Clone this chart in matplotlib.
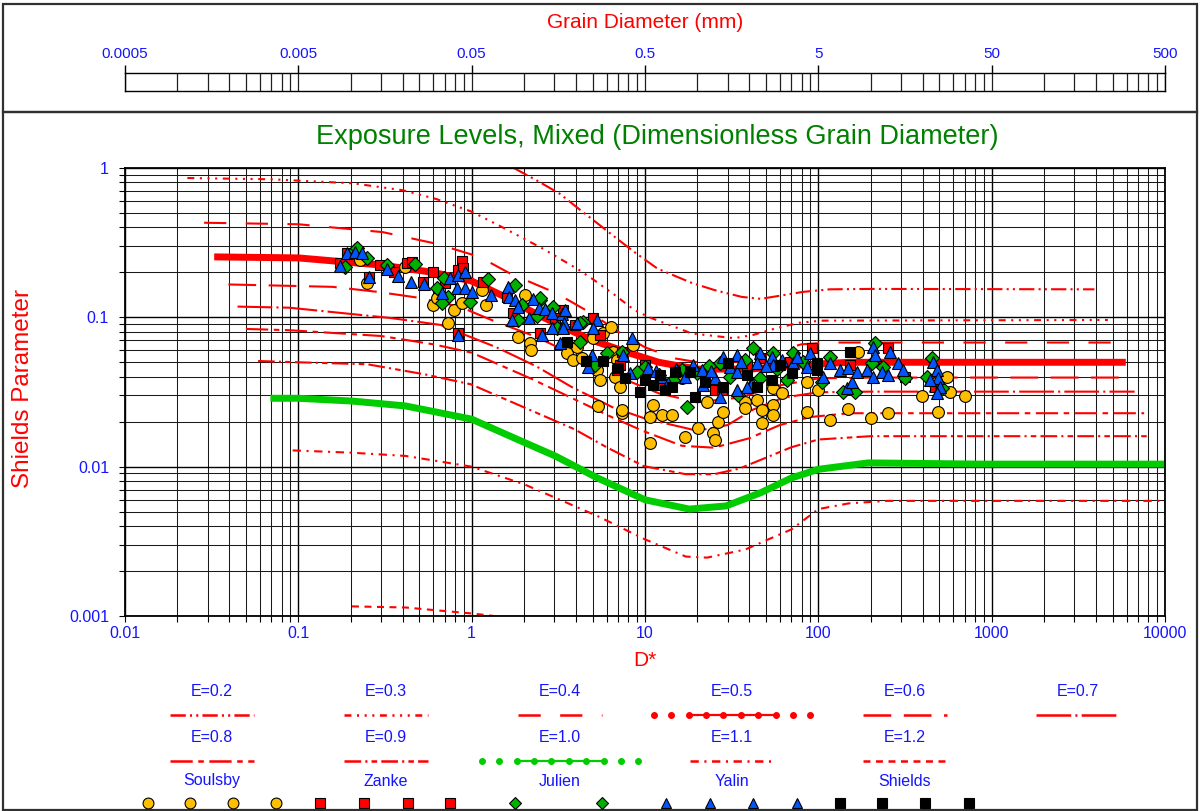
import numpy as np
import matplotlib
matplotlib.use('Agg')
import matplotlib.pyplot as plt
from matplotlib.ticker import FixedLocator, FixedFormatter, LogLocator, NullFormatter
from matplotlib.patches import Rectangle

plt.rcParams['font.family'] = ['Liberation Sans', 'DejaVu Sans']
plt.rcParams['lines.scale_dashes'] = False

# ---- axis ticks ----
x_tick_labels = ['0.01', '0.1', '1', '10', '100', '1000', '10000']
y_tick_labels = ['0.001', '0.01', '0.1', '1']
top_tick_labels = ['0.0005', '0.005', '0.05', '0.5', '5', '50', '500']

# ---- exposure curves (D*, Shields parameter) ----
e02_d = [1.75, 2.4, 3.23, 4.2, 5.5, 6.7, 8.67, 11.8, 18.6, 25.3, 36.2, 46.6, 63.3, 81.5, 116, 200, 3916]
e02_t = [1.0, 0.82, 0.671, 0.527, 0.413, 0.345, 0.274, 0.212, 0.170, 0.152, 0.137, 0.133, 0.141, 0.148, 0.154, 0.155, 0.154]

e03_d = [0.0229, 0.07, 0.206, 0.4, 0.625, 1.0, 1.45, 2.58, 4.1, 5.0, 6.7, 8.67, 10.6, 18.6, 32.6, 42, 57, 77.5, 105, 4680]
e03_t = [0.857, 0.84, 0.79, 0.71, 0.62, 0.51, 0.41, 0.288, 0.21, 0.18, 0.141, 0.112, 0.1, 0.078, 0.0725, 0.0762, 0.0845, 0.092, 0.095, 0.096]

e04_d = [0.0286, 0.1, 0.307, 0.625, 1.11, 1.66, 3.08, 5, 7, 10, 15, 25, 40, 60, 80, 120, 5190]
e04_t = [0.43, 0.42, 0.372, 0.311, 0.254, 0.197, 0.145, 0.105, 0.08, 0.063, 0.053, 0.048, 0.052, 0.06, 0.066, 0.0678, 0.0678]

e05_d = [0.0327, 0.1, 0.3, 0.6, 1.0, 1.5, 2.2, 3.3, 5, 8, 12, 20, 40, 80, 150, 5940]
e05_t = [0.254, 0.25, 0.224, 0.2, 0.175, 0.14, 0.11, 0.087, 0.07, 0.058, 0.05, 0.045, 0.045, 0.048, 0.05, 0.05]

e06_d = [0.0395, 0.1, 0.158, 0.288, 0.5, 0.85, 1.33, 2.36, 4, 7, 12, 20, 35, 60, 100, 200, 5900]
e06_t = [0.166, 0.162, 0.16, 0.148, 0.135, 0.118, 0.095, 0.074, 0.055, 0.04, 0.031, 0.027, 0.029, 0.035, 0.039, 0.0395, 0.0395]

e07_d = [0.0446, 0.089, 0.34, 0.66, 0.85, 1.39, 2.36, 3.8, 6.5, 10, 20, 30, 42, 63, 100, 200, 6680]
e07_t = [0.118, 0.116, 0.099, 0.089, 0.079, 0.063, 0.047, 0.034, 0.025, 0.021, 0.0174, 0.019, 0.0241, 0.029, 0.0315, 0.0318, 0.0318]

e08_d = [0.0499, 0.089, 0.3, 0.6, 1.0, 2.24, 4.12, 6.52, 9.8, 16.3, 25, 40, 60, 90, 150, 7580]
e08_t = [0.0836, 0.082, 0.075, 0.066, 0.058, 0.0385, 0.0275, 0.0213, 0.0173, 0.0138, 0.0134, 0.0155, 0.019, 0.0215, 0.0228, 0.0228]

e09_d = [0.0586, 0.1, 0.25, 0.537, 0.99, 1.92, 3.92, 6, 9.8, 17.2, 25, 35, 50, 70, 100, 200, 8000]
e09_t = [0.051, 0.05, 0.0485, 0.0415, 0.0356, 0.0255, 0.0178, 0.0135, 0.0101, 0.0089, 0.0089, 0.0097, 0.0115, 0.0135, 0.0152, 0.016, 0.016]

e10_d = [0.069, 0.1, 0.204, 0.416, 1.0, 2.02, 3.03, 5.32, 10, 18, 29.4, 46.6, 70, 100, 194, 893, 10000]
e10_t = [0.0287, 0.0287, 0.0275, 0.0255, 0.0208, 0.0145, 0.0118, 0.0084, 0.006, 0.0052, 0.00546, 0.0067, 0.0084, 0.0096, 0.0106, 0.0104, 0.0104]

e11_d = [0.0927, 0.204, 0.416, 1.0, 2.02, 3.03, 5.32, 10, 17.2, 22.8, 38, 51.5, 70, 100, 150, 250, 10000]
e11_t = [0.01285, 0.0124, 0.0118, 0.01, 0.0076, 0.0062, 0.00467, 0.00326, 0.0025, 0.00246, 0.00279, 0.00326, 0.0038, 0.0052, 0.00568, 0.0059, 0.0059]

e12_d = [0.204, 0.416, 1.0, 1.34]
e12_t = [0.00116, 0.00114, 0.00104, 0.001]

# ---- measured data ----
soulsby_d = [0.227, 0.249, 0.413, 0.598, 0.630, 0.790, 0.730, 0.880, 1.15, 1.21, 2.03, 1.85, 2.17, 2.20,
             3.54, 3.84, 4.33, 4.05, 5.02, 5.73, 6.36, 6.54, 6.89, 5.29, 5.50, 6.71, 7.17, 5.36, 7.36,
             8.53, 7.36, 10.7, 12.5, 14.3, 16.3, 17.4, 22.8, 20.3, 17.0, 24.7, 25.3, 26.4, 28.2, 37.8,
             37.8, 44.3, 47.3, 47.3, 54.8, 54.8, 54.8, 61.7, 10.7, 11.1, 169, 86.0, 99.7, 86.0, 117,
             148, 202, 253, 396, 491, 552, 575, 701]
soulsby_t = [0.242, 0.170, 0.217, 0.121, 0.134, 0.112, 0.0917, 0.125, 0.152, 0.121, 0.141, 0.0738, 0.0673,
             0.0604, 0.0577, 0.0518, 0.0534, 0.0633, 0.0727, 0.0783, 0.0862, 0.0586, 0.0518, 0.0444, 0.0380,
             0.0398, 0.0341, 0.0254, 0.0228, 0.0653, 0.0239, 0.0215, 0.0221, 0.0221, 0.0392, 0.0431, 0.0271,
             0.0181, 0.0158, 0.0168, 0.0151, 0.0199, 0.0232, 0.0271, 0.0246, 0.0279, 0.0239, 0.0196, 0.0258,
             0.0221, 0.0336, 0.0311, 0.0144, 0.0258, 0.0586, 0.0369, 0.0326, 0.0232, 0.0205, 0.0243, 0.0211,
             0.0228, 0.0297, 0.0232, 0.0398, 0.0316, 0.0297]

zanke_d = [0.174, 0.191, 0.256, 0.296, 0.357, 0.423, 0.524, 0.598, 0.880, 0.834, 1.17, 1.60, 1.73, 2.48,
           3.36, 3.94, 5.02, 7.36, 6.89, 91.9, 253, 471, 7.17, 10.0, 25.3, 27.8, 38.8, 46.1, 68.7, 152,
           316, 15.9, 12.2, 5.50, 3.03, 0.70, 0.453, 0.834, 0.89]
zanke_t = [0.231, 0.269, 0.186, 0.224, 0.201, 0.231, 0.173, 0.201, 0.238, 0.0783, 0.173, 0.137, 0.107, 0.0783,
           0.112, 0.0889, 0.099, 0.0586, 0.0444, 0.0623, 0.0623, 0.0341, 0.048, 0.048, 0.0326, 0.0326, 0.048,
           0.0534, 0.0502, 0.048, 0.0399, 0.0444, 0.0352, 0.0759, 0.099, 0.170, 0.235, 0.207, 0.213]

julien_d = [0.186, 0.213, 0.249, 0.325, 0.472, 0.630, 0.692, 0.730, 0.674, 1.25, 0.978, 1.95, 1.85, 2.38,
            2.48, 2.95, 3.10, 4.22, 4.39, 5.15, 6.03, 7.36, 10.0, 16.3, 20.0, 27.1, 42.1, 54.8, 71.5, 34.4,
            46.1, 65.9, 17.4, 117, 105, 138, 162, 213, 204, 236, 316, 423, 517, 453, 0.218, 1.77, 2.48, 4.22,
            12.0, 14.5, 23.5, 31.0, 38.0, 58.0, 82.0, 9.0]
julien_t = [0.217, 0.282, 0.249, 0.224, 0.228, 0.157, 0.183, 0.137, 0.125, 0.181, 0.127, 0.121, 0.096, 0.102,
            0.131, 0.117, 0.0845, 0.0684, 0.0931, 0.048, 0.0577, 0.0586, 0.0465, 0.0444, 0.0424, 0.0495,
            0.0623, 0.0577, 0.0577, 0.0302, 0.0392, 0.0380, 0.0251, 0.0542, 0.0369, 0.0316, 0.0316, 0.0673,
            0.0495, 0.0465, 0.0392, 0.0398, 0.0336, 0.0534, 0.291, 0.165, 0.134, 0.0917,
            0.0410, 0.0380, 0.0470, 0.0400, 0.0520, 0.0450, 0.0500, 0.0430]

yalin_d = [0.174, 0.191, 0.213, 0.233, 0.256, 0.325, 0.376, 0.447, 0.531, 0.674, 0.749, 0.834, 0.834, 0.916,
           0.823, 0.916, 1.00, 1.30, 1.62, 1.64, 1.77, 1.85, 1.70, 2.14, 2.26, 2.45, 2.65, 2.91, 3.32, 3.45,
           3.40, 2.91, 2.55, 3.23, 3.36, 4.05, 5.29, 5.02, 4.95, 4.70, 8.41, 7.46, 8.19, 10.4, 12.5, 17.0,
           21.4, 21.7, 25.3, 27.1, 28.2, 30.9, 33.9, 33.9, 41.5, 38.8, 46.1, 44.3, 54.0, 54.8, 71.5, 33.9,
           75.4, 89.5, 86.0, 106, 117, 133, 148, 146, 156, 167, 191, 207, 213, 207, 233, 253, 259, 288,
           308, 459, 484, 491, 503, 484, 441,
           11.5, 13.5, 15.0, 19.0, 24.0, 36.0, 50.0, 62.0]
yalin_t = [0.220, 0.269, 0.274, 0.269, 0.186, 0.210, 0.189, 0.173, 0.167, 0.145, 0.183, 0.192, 0.0759, 0.201,
           0.157, 0.157, 0.147, 0.141, 0.159, 0.137, 0.131, 0.117, 0.096, 0.099, 0.133, 0.115, 0.114, 0.107,
           0.105, 0.112, 0.0917, 0.0845, 0.0759, 0.0673, 0.0845, 0.0917, 0.096, 0.0845, 0.0559, 0.0465,
           0.0727, 0.0559, 0.0424, 0.0458, 0.0398, 0.0398, 0.0444, 0.0352, 0.0392, 0.0292, 0.0543, 0.0465,
           0.0559, 0.0431, 0.0363, 0.0341, 0.0577, 0.0495, 0.0543, 0.048, 0.0495, 0.0326, 0.0543, 0.0577,
           0.0465, 0.0399, 0.0495, 0.0444, 0.0458, 0.0336, 0.0369, 0.0431, 0.0444, 0.0633, 0.0559, 0.0398,
           0.0431, 0.0411, 0.0586, 0.0495, 0.0444, 0.0502, 0.0444, 0.0392, 0.0341, 0.0311, 0.0380,
           0.0440, 0.0365, 0.0450, 0.0480, 0.0440, 0.0500, 0.0470, 0.0520]

shields_d = [3.55, 4.57, 5.73, 7.0, 7.66, 12.2, 11.1, 14.3, 19.5, 22.2, 28.2, 30.1, 38.8, 44.3, 60.1, 54.0,
             70.6, 152, 98.2, 98.2, 10.0, 13.0, 9.35, 14.9, 18.2]
shields_t = [0.0684, 0.051, 0.051, 0.0458, 0.0392, 0.0411, 0.0352, 0.0341, 0.0292, 0.0369, 0.0341, 0.0495,
             0.0411, 0.0341, 0.048, 0.038, 0.0424, 0.0586, 0.0495, 0.0444, 0.038, 0.0326, 0.0316, 0.0431, 0.0431]

RED = '#ff0000'
GREEN_LINE = '#00cc00'
BLUE_TXT = '#1414ff'

# label, x, y, color, linewidth, dash pattern (None = solid)
curves = [
    ('E=0.2', e02_d, e02_t, RED, 1.5, (0, (11, 3, 1.5, 3, 1.5, 3))),
    ('E=0.3', e03_d, e03_t, RED, 1.5, (0, (5, 4, 1.5, 4, 1.5, 4, 1.5, 4))),
    ('E=0.4', e04_d, e04_t, RED, 1.5, (0, (16, 14))),
    ('E=0.5', e05_d, e05_t, RED, 5.0, None),
    ('E=0.6', e06_d, e06_t, RED, 1.5, (0, (20, 9))),
    ('E=0.7', e07_d, e07_t, RED, 1.5, (0, (25, 3, 1.5, 3))),
    ('E=0.8', e08_d, e08_t, RED, 1.5, (0, (16, 4, 4, 4))),
    ('E=0.9', e09_d, e09_t, RED, 1.5, (0, (12, 3, 1.5, 3, 4, 3))),
    ('E=1.0', e10_d, e10_t, GREEN_LINE, 5.0, None),
    ('E=1.1', e11_d, e11_t, RED, 1.5, (0, (6, 4, 1.5, 4))),
    ('E=1.2', e12_d, e12_t, RED, 1.5, (0, (5, 4))),
]

series = [
    ('Soulsby', soulsby_d, soulsby_t, 'o', '#ffbf00', 8.5),
    ('Zanke', zanke_d, zanke_t, 's', '#ff0000', 7.5),
    ('Julien', julien_d, julien_t, 'D', '#00b000', 6.8),
    ('Yalin', yalin_d, yalin_t, '^', '#0055ff', 8.5),
    ('Shields', shields_d, shields_t, 's', '#000000', 7.5),
]

fig = plt.figure(figsize=(12, 8.11), dpi=100)

# overlay in pixel units for frames, titles and the legend
ov = fig.add_axes([0, 0, 1, 1])
ov.set_xlim(0, 1200)
ov.set_ylim(811, 0)
ov.axis('off')
ov.add_patch(Rectangle((3, 4), 1194, 108, fill=False, ec='#303030', lw=1.6))
ov.add_patch(Rectangle((3, 112), 1194, 698, fill=False, ec='#303030', lw=1.6))
ov.text(645, 22, 'Grain Diameter (mm)', color=RED, fontsize=15, ha='center', va='center')
ov.text(657, 137, 'Exposure Levels, Mixed (Dimensionless Grain Diameter)', color='#008000',
        fontsize=19.5, ha='center', va='center')
ov.text(23, 388, 'Shields Parameter', color=RED, fontsize=17.5, rotation=90, ha='center', va='center')
ov.text(645, 661, 'D*', color=RED, fontsize=15, ha='center', va='center')

# ---- main chart ----
ax = fig.add_axes([125 / 1200, 1 - 616 / 811, 1040 / 1200, 448 / 811])
ax.set_xscale('log')
ax.set_yscale('log')
ax.set_xlim(0.01, 10000)
ax.set_ylim(0.001, 1)
x_vals = [float(s) for s in x_tick_labels]
y_vals = [float(s) for s in y_tick_labels]
ax.xaxis.set_major_locator(FixedLocator(x_vals))
ax.xaxis.set_major_formatter(FixedFormatter(x_tick_labels))
ax.yaxis.set_major_locator(FixedLocator(y_vals))
ax.yaxis.set_major_formatter(FixedFormatter(y_tick_labels))
for a in (ax.xaxis, ax.yaxis):
    a.set_minor_locator(LogLocator(base=10, subs=np.arange(2, 10), numticks=100))
    a.set_minor_formatter(NullFormatter())
ax.grid(which='major', color='black', lw=1.0)
ax.grid(which='minor', color='#1a1a1a', lw=0.75)
ax.set_axisbelow(True)
ax.tick_params(which='both', direction='out', length=4, width=0.8, color='black')
ax.tick_params(axis='x', labelcolor=BLUE_TXT, labelsize=11.5, pad=3.5)
ax.tick_params(axis='y', labelcolor=BLUE_TXT, labelsize=11.5, pad=7.5)
for s in ax.spines.values():
    s.set_linewidth(1.3)

for lab, d, t, col, lw, dash in curves:
    if dash is None:
        ax.plot(d, t, color=col, lw=lw, solid_capstyle='butt', zorder=2)
    else:
        ax.plot(d, t, color=col, lw=lw, linestyle=dash, zorder=2)

for i, (lab, d, t, mk, fc, ms) in enumerate(series):
    ax.plot(d, t, ls='none', marker=mk, ms=ms, mfc=fc, mec='black', mew=0.8, zorder=3 + i)

# ---- grain diameter scale bar ----
axd = fig.add_axes([125 / 1200, 1 - 91 / 811, 1040 / 1200, 18 / 811])
axd.set_xscale('log')
axd.set_xlim(0.0005, 500)
axd.set_ylim(0, 1)
axd.set_yticks([])
top_vals = [float(s) for s in top_tick_labels]
axd.xaxis.set_major_locator(FixedLocator(top_vals))
axd.xaxis.set_major_formatter(FixedFormatter(top_tick_labels))
axd.xaxis.set_minor_locator(FixedLocator([v * k for v in top_vals[:-1] for k in range(2, 10)]))
axd.xaxis.set_minor_formatter(NullFormatter())
axd.tick_params(axis='x', which='major', top=True, bottom=False, labeltop=True, labelbottom=False,
                direction='out', length=6, width=1, labelcolor=BLUE_TXT, labelsize=11, pad=3)
axd.tick_params(axis='x', which='minor', top=False, bottom=False)
axd.grid(which='both', axis='x', color='#202020', lw=0.9)
for s in axd.spines.values():
    s.set_linewidth(1.0)

# ---- legend ----
col_x = [212, 386, 560, 732, 905, 1078]
row_label_y = [691, 738, 781]
row_key_y = [715, 761, 803]
half = 42
for i, (lab, d, t, col, lw, dash) in enumerate(curves):
    r, c = divmod(i, 6)
    cx, ky = col_x[c], row_key_y[r]
    ov.text(cx, row_label_y[r], lab, color=BLUE_TXT, fontsize=11.5, ha='center', va='center')
    if dash is None:
        xs = cx + 17.4 * np.arange(-4.5, 5)
        ov.plot([xs[2], xs[7]], [ky, ky], color=col, lw=1.6)
        ov.plot(xs, [ky] * len(xs), ls='none', marker='o', ms=4, color=col)
    else:
        ov.plot([cx - half, cx + half], [ky, ky], color=col, lw=1.8, linestyle=dash)

marker_x = {
    'Soulsby': [148, 190, 233, 276],
    'Zanke': [320, 364, 408, 450],
    'Julien': [515, 602],
    'Yalin': [666, 710, 753, 797],
    'Shields': [840, 882, 925, 969],
}
for i, (lab, d, t, mk, fc, ms) in enumerate(series):
    ov.text(col_x[i], row_label_y[2], lab, color=BLUE_TXT, fontsize=11.5, ha='center', va='center')
    xs = marker_x[lab]
    ov.plot(xs, [row_key_y[2]] * len(xs), ls='none', marker=mk, ms=ms * 0.92, mfc=fc, mec='black', mew=0.8)

fig.savefig('out.png', dpi=100)
